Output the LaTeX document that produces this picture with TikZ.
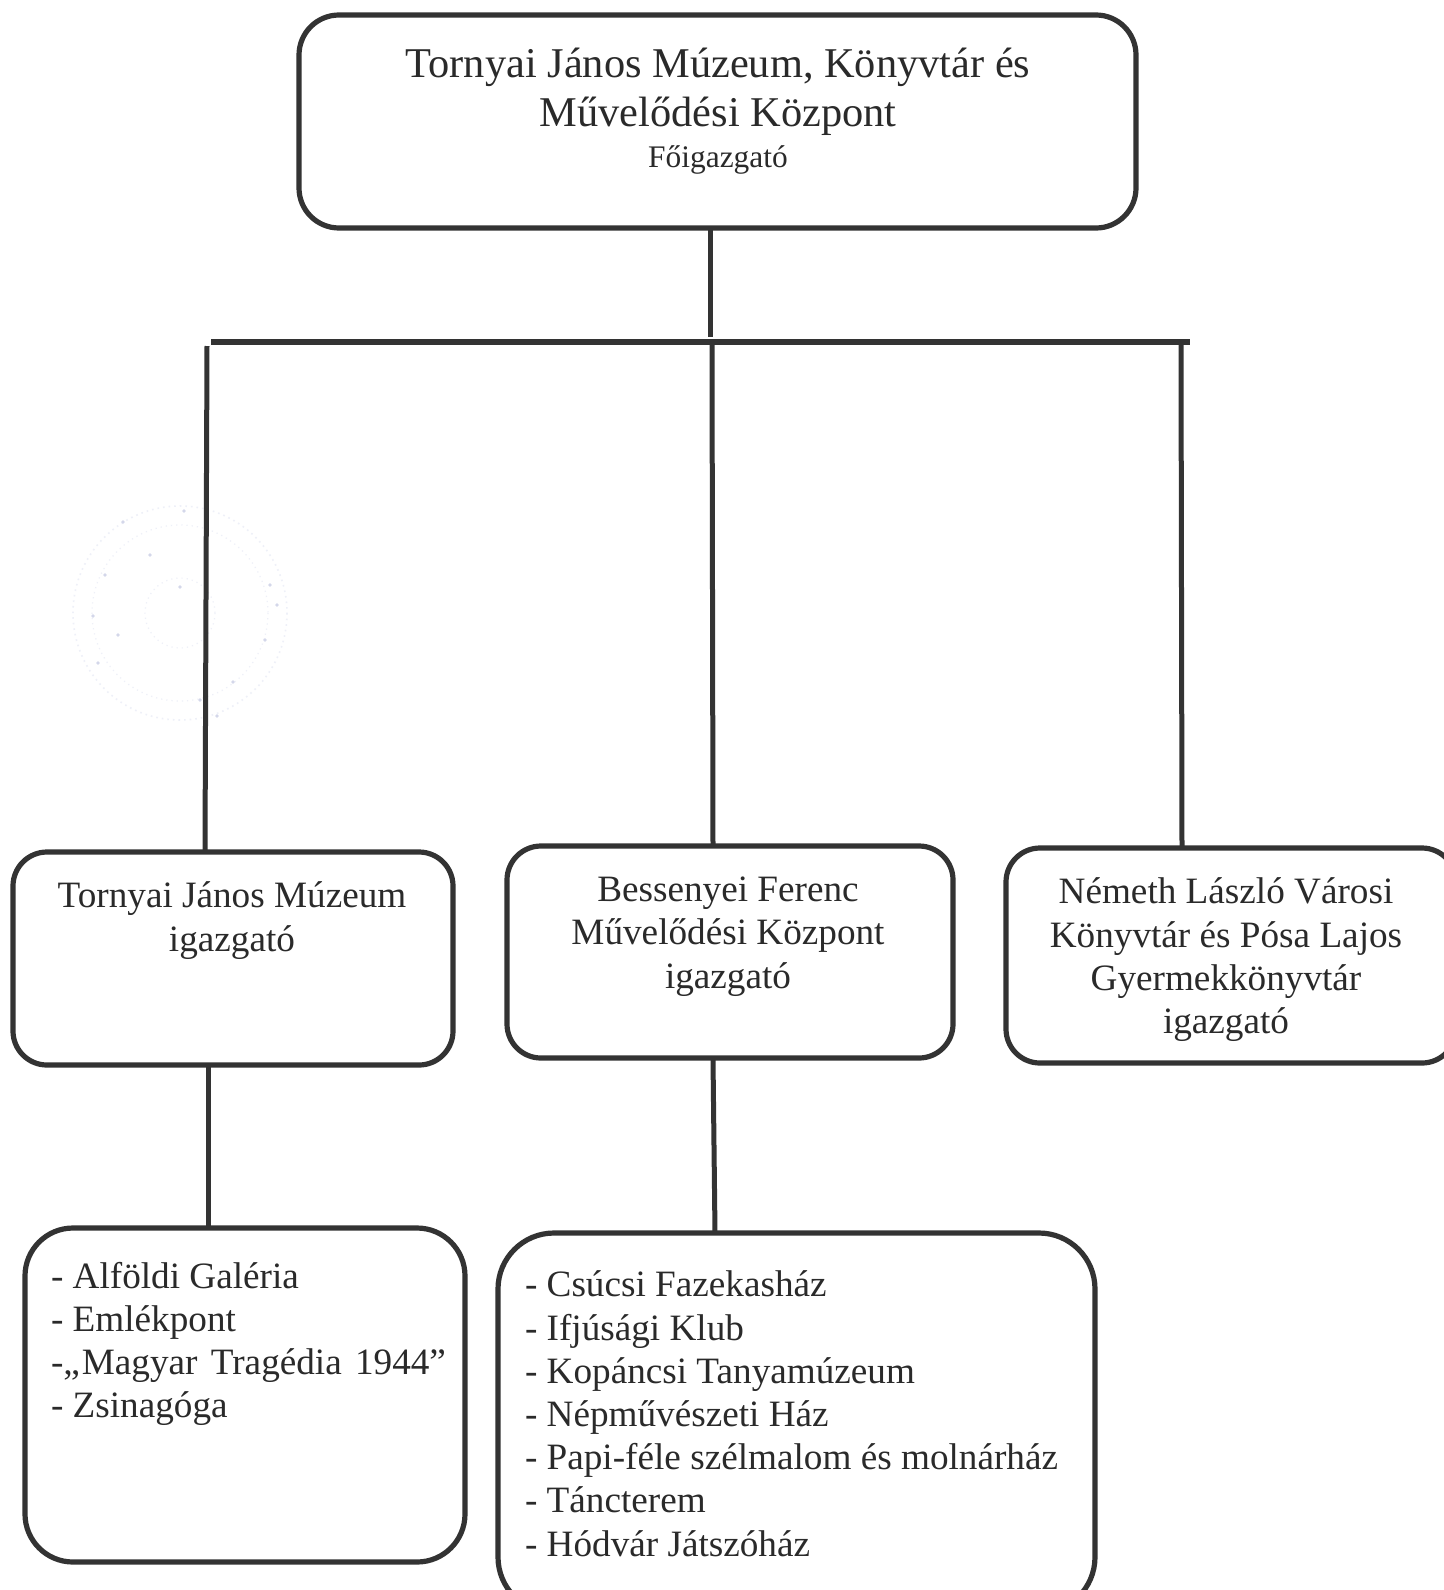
\documentclass[tikz,border=0pt]{standalone}
\usepackage{fontspec}
\setmainfont{Liberation Serif}
\definecolor{ink}{HTML}{333333}
\definecolor{txt}{HTML}{2A2A2A}
\definecolor{stampc}{HTML}{EEF0F8}
\definecolor{speck}{HTML}{D4D7EA}
\tikzset{
  x=0.5pt,y=-0.5pt,
  boxbase/.style={draw=ink,line width=2.6pt,inner sep=0pt,outer sep=0pt,anchor=north west,fill=none},
  link/.style={draw=ink,line width=2.5pt},
  bus/.style={draw=ink,line width=3.2pt},
  label/.style={inner sep=0pt,outer sep=0pt,text=txt,anchor=north,align=center,font=\fontsize{18.6}{21.6}\selectfont},
  listlabel/.style={label,anchor=north west,align=left},
  speckdot/.style={fill=speck,draw=none},
}
\begin{document}
\begin{tikzpicture}
\useasboundingbox (0,0) rectangle (1444,1590);
\clip (0,0) rectangle (1444,1590);
\fill[white] (0,0) rectangle (1444,1590);
% faint stamp
\draw[stampc,line width=0.8pt,dotted] (180,613) circle [radius=107];
\draw[stampc,line width=0.6pt,dotted] (180,613) circle [radius=88];
\draw[stampc,line width=0.6pt,dotted] (180,613) circle [radius=35];
\foreach \px/\py in {184/511,123/522,180/587,277/605,118/635,233/682,217/716,98/663,93/616,150/555,265/640,270/585,105/575,200/700}
  \fill[speckdot] (\px,\py) circle [radius=1.8];
% boxes
\node[boxbase,rounded corners=20pt,minimum width=418.5pt,minimum height=106.5pt] (top) at (299,15) {};
\node[boxbase,rounded corners=17pt,minimum width=220pt,minimum height=106.5pt] (a) at (13,852) {};
\node[boxbase,rounded corners=17pt,minimum width=223pt,minimum height=106pt] (b) at (507,846) {};
\node[boxbase,rounded corners=17pt,minimum width=225pt,minimum height=107.5pt] (c) at (1006,848) {};
\node[boxbase,rounded corners=24pt,minimum width=220pt,minimum height=167pt] (d) at (25,1228) {};
\node[boxbase,rounded corners=28pt,minimum width=298.5pt,minimum height=190pt] (e) at (498,1233) {};
% bus
\coordinate (busL) at (211,342);
\coordinate (busR) at (1190,342);
\draw[bus] (busL) -- (busR);
\coordinate (topJ) at (710,337);
\coordinate (lTop) at (207,346);
\coordinate (mTop) at (712,342);
\coordinate (rTop) at (1181,342);
\coordinate (aIn) at (205,852);
\coordinate (bIn) at (713,846);
\coordinate (cIn) at (1182,848);
\coordinate (aOut) at (208,1066);
\coordinate (dIn) at (208,1228);
\coordinate (bOut) at (713,1059);
\coordinate (eIn) at (715,1233);
\draw[link] (top.south -| topJ) -- (topJ);
\draw[link] (lTop) -- (aIn);
\draw[link] (mTop) -- (bIn);
\draw[link] (rTop) -- (cIn);
\draw[link] (aOut) -- (dIn);
\draw[link] (bOut) -- (eIn);
% texts
\node[label,font=\fontsize{21.2}{24.4}\selectfont] (t1) at (718,48) {Tornyai János Múzeum, Könyvtár és\\Művelődési Központ};
\node[label,font=\fontsize{15.7}{18}\selectfont] (t2) at (718,146) {Főigazgató};
\node[label] (ta) at (232,882) {Tornyai János Múzeum\\igazgató};
\node[label] (tb) at (728,877) {Bessenyei Ferenc\\Művelődési Központ\\igazgató};
\node[label] (tc) at (1226,878) {Németh László Városi\\Könyvtár és Pósa Lajos\\Gyermekkönyvtár\\igazgató};
\node[listlabel] (td) at (51,1262) {- Alföldi Galéria\\- Emlékpont\\-„\hspace{1pt}Magyar\hspace{2pt} Tragédia\hspace{2pt} 1944”\\- Zsinagóga};
\node[listlabel] (te) at (525,1271) {- Csúcsi Fazekasház\\- Ifjúsági Klub\\- Kopáncsi Tanyamúzeum\\- Népművészeti Ház\\- Papi-féle szélmalom és molnárház\\- Táncterem\\- Hódvár Játszóház};
\end{tikzpicture}
\end{document}
